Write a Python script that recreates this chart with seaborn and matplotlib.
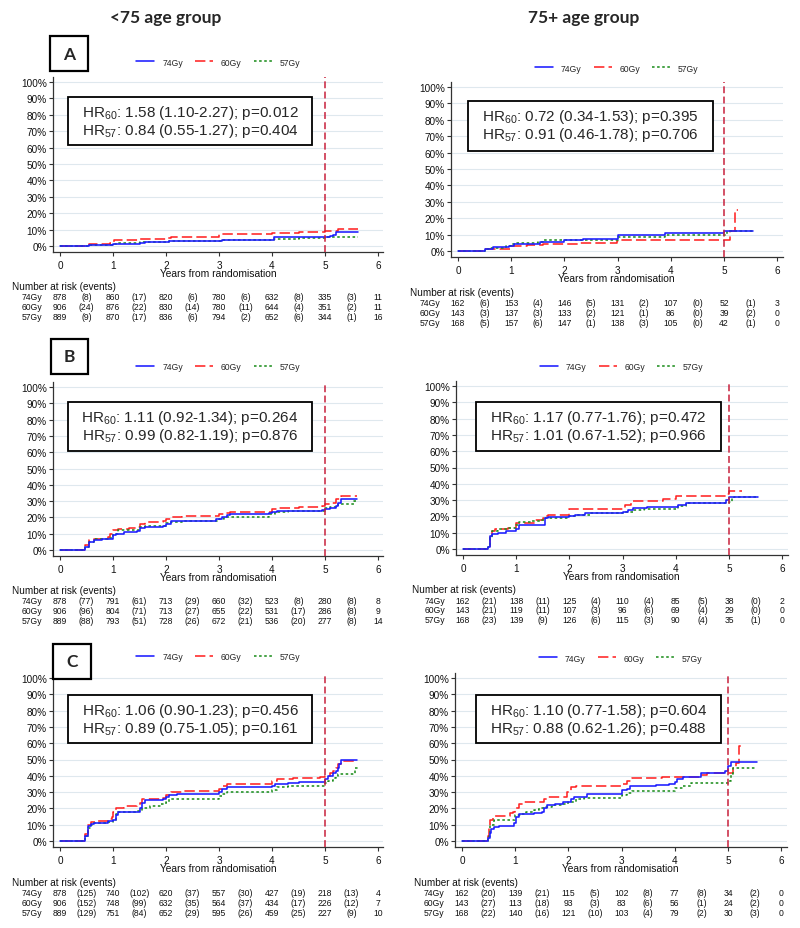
import matplotlib
matplotlib.use("Agg")
import matplotlib.pyplot as plt
import pandas as pd
import seaborn as sns
from matplotlib import transforms
from matplotlib.patches import Rectangle

# Figure size in pixels (dpi 100)
W, H = 800, 929

ARMS = ["74Gy", "60Gy", "57Gy"]
YEAR_TICKS = [0, 1, 2, 3, 4, 5, 6]
PCT_TICKS = [0, 10, 20, 30, 40, 50, 60, 70, 80, 90, 100]
COLUMN_TITLES = ["<75 age group", "75+ age group"]

# Cumulative incidence step curves, (years, %)
lt75_a_74 = [(0, 0), (0.55, 0.5), (1.0, 1.0), (1.05, 1.5), (1.5, 2.0), (1.6, 2.6), (2.05, 3.0), (2.3, 3.3),
             (3.05, 3.8), (4.03, 5.4), (5.1, 6.0), (5.15, 6.5), (5.2, 8.5), (5.63, 8.5)]
lt75_a_60 = [(0, 0), (0.55, 1.0), (0.95, 2.0), (1.02, 3.4), (1.5, 4.2), (2.0, 5.0), (2.1, 5.5), (3.0, 7.3),
             (3.5, 7.6), (4.0, 8.2), (4.5, 8.6), (5.0, 9.2), (5.25, 10.5), (5.63, 10.5)]
lt75_a_57 = [(0, 0), (0.55, 0.5), (1.0, 1.1), (1.1, 1.6), (1.5, 2.2), (1.7, 2.7), (2.05, 3.1), (3.05, 3.6),
             (4.03, 4.5), (4.5, 5.0), (5.0, 5.5), (5.63, 5.5)]

ge75_a_74 = [(0, 0), (0.5, 1.5), (0.65, 2.5), (0.95, 3.0), (1.05, 4.0), (1.15, 4.5), (1.55, 5.5), (2.0, 6.5),
             (2.2, 7.0), (2.35, 7.5), (3.0, 10.0), (3.9, 11.0), (5.0, 12.5), (5.55, 12.5)]
ge75_a_60 = [(0, 0), (0.5, 1.5), (1.0, 3.0), (1.3, 3.5), (1.6, 4.0), (2.0, 4.5), (2.3, 5.0), (2.98, 6.0),
             (3.05, 6.5), (5.12, 12.5), (5.2, 25.0), (5.27, 25.0)]
ge75_a_57 = [(0, 0), (0.5, 1.0), (0.6, 2.0), (0.9, 3.0), (1.0, 4.5), (1.1, 5.0), (1.5, 5.5), (1.6, 6.5),
             (2.0, 7.0), (3.0, 8.5), (3.9, 9.5), (5.0, 10.0), (5.05, 12.0), (5.55, 12.0)]

lt75_b_74 = [(0, 0), (0.48, 2), (0.55, 5), (0.65, 6), (0.8, 6.5), (0.95, 7), (1.0, 9), (1.05, 10), (1.2, 11),
             (1.45, 11.5), (1.5, 13.5), (1.6, 14), (1.95, 15), (2.0, 16), (2.1, 17.5), (2.3, 18), (2.95, 19),
             (3.05, 20.5), (3.15, 21.5), (3.2, 22), (3.95, 23), (4.0, 23.5), (4.1, 24), (4.95, 24.5), (5.0, 25),
             (5.1, 26), (5.2, 27), (5.25, 29), (5.3, 31.5), (5.6, 31.5)]
lt75_b_60 = [(0, 0), (0.48, 3), (0.55, 6), (0.65, 7), (0.9, 8), (0.95, 10), (1.0, 12), (1.1, 13), (1.3, 13.5),
             (1.45, 14), (1.5, 16), (1.6, 17), (1.95, 17.5), (2.0, 19), (2.1, 20.5), (2.3, 21), (3.0, 22),
             (3.1, 23), (3.2, 23.5), (4.0, 25), (4.1, 25.5), (4.5, 26.5), (4.95, 27), (5.0, 28), (5.1, 29),
             (5.2, 31), (5.3, 33), (5.6, 33)]
lt75_b_57 = [(0, 0), (0.48, 2), (0.55, 5), (0.65, 6.5), (0.9, 7.5), (1.0, 10), (1.1, 12), (1.45, 12.5),
             (1.5, 14), (1.6, 14.5), (1.95, 15), (2.0, 16.5), (2.1, 17), (2.3, 17.5), (3.0, 19), (3.1, 20.5),
             (3.95, 22), (4.05, 23.5), (4.3, 24), (5.0, 25.5), (5.1, 26.5), (5.25, 28), (5.55, 30), (5.6, 30)]

ge75_b_74 = [(0, 0), (0.47, 1), (0.5, 8), (0.55, 9.5), (0.65, 10), (0.8, 11), (1.0, 12.5), (1.05, 14.5),
             (1.5, 15), (1.55, 19), (1.6, 19.5), (2.0, 20), (2.1, 21), (2.3, 22), (3.0, 23), (3.1, 24),
             (3.2, 25), (3.45, 25.5), (4.05, 27), (4.2, 28.5), (4.95, 30), (5.0, 32), (5.55, 32)]
ge75_b_60 = [(0, 0), (0.47, 1), (0.5, 9), (0.55, 11), (0.6, 12), (0.85, 13), (1.0, 16), (1.35, 17.5),
             (1.5, 19), (1.55, 20.5), (1.6, 21), (2.0, 24.5), (3.05, 27), (3.15, 29.5), (3.75, 30.5),
             (4.0, 32.5), (4.95, 34), (5.0, 35.5), (5.25, 35.5)]
ge75_b_57 = [(0, 0), (0.47, 1), (0.5, 7), (0.55, 11), (0.65, 12.5), (0.85, 13), (1.0, 15), (1.05, 16.5),
             (1.3, 17), (1.45, 18), (1.55, 19), (2.0, 20), (2.1, 21), (2.4, 22), (3.0, 22.5), (3.2, 24),
             (3.4, 24.5), (4.05, 26.5), (4.2, 28), (4.3, 28.5), (5.0, 29), (5.05, 31), (5.1, 32), (5.55, 32)]

lt75_c_74 = [(0, 0), (0.48, 3), (0.52, 9), (0.58, 10.5), (0.65, 11), (0.9, 12), (1.0, 13), (1.05, 16),
             (1.1, 17.5), (1.2, 18), (1.5, 20), (1.55, 23.5), (1.6, 25), (1.95, 25.5), (2.0, 27), (2.05, 28.5),
             (2.2, 29), (3.0, 30), (3.05, 32), (3.15, 33), (4.0, 34), (4.05, 35), (4.3, 35.5), (4.5, 36.5),
             (5.0, 38), (5.05, 40), (5.15, 41.5), (5.2, 43), (5.25, 45), (5.27, 47), (5.3, 49.5), (5.6, 49.5)]
lt75_c_60 = [(0, 0), (0.48, 4), (0.52, 10), (0.58, 11.5), (0.7, 12.5), (0.9, 13.5), (0.98, 15), (1.0, 18),
             (1.05, 20.5), (1.2, 21.5), (1.45, 22), (1.5, 23.5), (1.55, 25.5), (1.7, 26), (1.95, 26.5),
             (2.0, 28.5), (2.1, 30), (2.3, 30.5), (3.0, 32), (3.05, 34), (3.15, 35), (4.0, 37), (4.1, 38),
             (4.4, 38.5), (4.9, 39), (5.0, 40), (5.1, 41.5), (5.15, 43), (5.2, 45), (5.25, 47), (5.3, 49),
             (5.6, 49)]
lt75_c_57 = [(0, 0), (0.48, 3), (0.52, 8), (0.58, 10), (0.65, 11), (0.9, 11.5), (1.0, 13), (1.05, 16.5),
             (1.1, 17.5), (1.3, 18), (1.45, 18.5), (1.55, 20.5), (1.7, 21.5), (1.9, 22.5), (2.0, 24),
             (2.05, 26), (3.0, 27.5), (3.05, 29), (3.15, 30), (4.0, 31), (4.1, 33), (4.3, 34), (5.0, 35.5),
             (5.05, 37), (5.15, 38.5), (5.2, 40), (5.25, 41), (5.57, 45), (5.65, 45)]

ge75_c_74 = [(0, 0), (0.48, 2), (0.52, 5), (0.55, 7.5), (0.6, 8.5), (0.7, 9.5), (0.98, 11), (1.02, 15),
             (1.07, 16.5), (1.35, 17), (1.5, 18), (1.55, 20), (1.6, 22), (1.75, 23), (1.9, 24), (2.05, 25.5),
             (2.1, 27), (2.35, 29), (3.0, 31), (3.1, 32), (3.15, 33.5), (3.65, 34.5), (3.9, 35), (4.0, 36),
             (4.05, 38), (4.15, 39), (4.5, 41.5), (4.95, 43), (5.0, 46), (5.05, 48.5), (5.55, 48.5)]
ge75_c_60 = [(0, 0), (0.48, 3), (0.5, 9), (0.52, 13), (0.58, 15.5), (0.9, 17), (0.95, 18), (1.0, 20.5),
             (1.07, 22.5), (1.15, 24), (1.55, 25.5), (1.6, 27), (1.98, 30), (2.05, 33), (2.15, 33.5),
             (3.0, 35), (3.1, 37), (3.2, 38.5), (3.75, 39.5), (4.5, 40.5), (4.6, 41.5), (5.1, 45), (5.15, 48),
             (5.2, 58), (5.3, 58)]
ge75_c_57 = [(0, 0), (0.48, 1), (0.5, 3), (0.52, 10), (0.6, 13), (1.0, 16), (1.1, 16.5), (1.2, 18),
             (1.35, 19), (1.45, 20), (1.55, 21), (1.7, 22), (1.9, 23), (2.0, 24), (2.15, 25.5), (2.3, 26.5),
             (3.0, 28), (3.1, 29.5), (3.2, 30.5), (4.0, 32.5), (4.15, 34), (4.3, 35.5), (5.0, 37), (5.05, 41),
             (5.1, 44.5), (5.55, 44.5)]

# Number at risk at years 0..6, events in each yearly interval (rows: 74Gy, 60Gy, 57Gy)
lt75_a_at_risk = [[878, 860, 820, 780, 632, 335, 11], [906, 876, 830, 780, 644, 351, 11], [889, 870, 836, 794, 652, 344, 16]]
lt75_a_events = [[8, 17, 6, 6, 8, 3], [24, 22, 14, 11, 4, 2], [9, 17, 6, 2, 6, 1]]
ge75_a_at_risk = [[162, 153, 146, 131, 107, 52, 3], [143, 137, 133, 121, 86, 39, 0], [168, 157, 147, 138, 105, 42, 0]]
ge75_a_events = [[6, 4, 5, 2, 0, 1], [3, 3, 2, 1, 0, 2], [5, 6, 1, 3, 0, 1]]
lt75_b_at_risk = [[878, 791, 713, 660, 523, 280, 8], [906, 804, 713, 655, 531, 286, 9], [889, 793, 728, 672, 536, 277, 14]]
lt75_b_events = [[77, 61, 29, 32, 8, 8], [96, 71, 27, 22, 17, 8], [88, 51, 26, 21, 20, 8]]
ge75_b_at_risk = [[162, 138, 125, 110, 85, 38, 2], [143, 119, 107, 96, 69, 29, 0], [168, 139, 126, 115, 90, 35, 0]]
ge75_b_events = [[21, 11, 4, 4, 5, 0], [21, 11, 3, 6, 4, 0], [23, 9, 6, 3, 4, 1]]
lt75_c_at_risk = [[878, 740, 620, 557, 427, 218, 4], [906, 748, 632, 564, 434, 226, 7], [889, 751, 652, 595, 459, 227, 10]]
lt75_c_events = [[125, 102, 37, 30, 19, 13], [152, 99, 35, 37, 17, 12], [129, 84, 29, 26, 25, 9]]
ge75_c_at_risk = [[162, 139, 115, 102, 77, 34, 0], [143, 113, 93, 83, 56, 24, 0], [168, 140, 121, 103, 79, 30, 0]]
ge75_c_events = [[20, 21, 5, 8, 8, 2], [27, 18, 3, 6, 1, 2], [22, 16, 10, 4, 2, 3]]

# Hazard ratios (vs 74Gy)
lt75_a_hr = ["1.58 (1.10-2.27); p=0.012", "0.84 (0.55-1.27); p=0.404"]
ge75_a_hr = ["0.72 (0.34-1.53); p=0.395", "0.91 (0.46-1.78); p=0.706"]
lt75_b_hr = ["1.11 (0.92-1.34); p=0.264", "0.99 (0.82-1.19); p=0.876"]
ge75_b_hr = ["1.17 (0.77-1.76); p=0.472", "1.01 (0.67-1.52); p=0.966"]
lt75_c_hr = ["1.06 (0.90-1.23); p=0.456", "0.89 (0.75-1.05); p=0.161"]
ge75_c_hr = ["1.10 (0.77-1.58); p=0.604", "0.88 (0.62-1.26); p=0.488"]

ARM_COLORS = {"74Gy": "#1c1cff", "60Gy": "#ff2424", "57Gy": "#1f8f1f"}
ARM_DASHES = {"74Gy": "", "60Gy": (6.5, 2.6), "57Gy": (1.6, 1.6)}
XLIM = (-0.13, 6.1)
YLIM = (-3.7, 103)

# Pixel layout of each panel: origin (x of year 0, y of 0%), scale, legend, HR box, risk table
PANELS = [
    dict(curves=(lt75_a_74, lt75_a_60, lt75_a_57), risk=lt75_a_at_risk, events=lt75_a_events, hr=lt75_a_hr,
         x0=60, pxy=53.0, y0=247, pxp=1.64, leg_y=63, box=(68, 98, 312, 146), risk_y=287, lab_x=12,
         letter=("A", 50, 37, 88, 72)),
    dict(curves=(ge75_a_74, ge75_a_60, ge75_a_57), risk=ge75_a_at_risk, events=ge75_a_events, hr=ge75_a_hr,
         x0=458, pxy=53.2, y0=252, pxp=1.64, leg_y=69, box=(468, 102, 713, 152), risk_y=293, lab_x=410,
         letter=None),
    dict(curves=(lt75_b_74, lt75_b_60, lt75_b_57), risk=lt75_b_at_risk, events=lt75_b_events, hr=lt75_b_hr,
         x0=60, pxy=53.0, y0=551, pxp=1.63, leg_y=368, box=(68, 403, 312, 452), risk_y=591, lab_x=12,
         letter=("B", 51, 340, 88, 375)),
    dict(curves=(ge75_b_74, ge75_b_60, ge75_b_57), risk=ge75_b_at_risk, events=ge75_b_events, hr=ge75_b_hr,
         x0=463, pxy=53.2, y0=550, pxp=1.63, leg_y=368, box=(476, 403, 721, 452), risk_y=590, lab_x=412,
         letter=None),
    dict(curves=(lt75_c_74, lt75_c_60, lt75_c_57), risk=lt75_c_at_risk, events=lt75_c_events, hr=lt75_c_hr,
         x0=60, pxy=53.0, y0=842, pxp=1.63, leg_y=658, box=(68, 696, 312, 744), risk_y=883, lab_x=12,
         letter=("C", 53, 645, 91, 680)),
    dict(curves=(ge75_c_74, ge75_c_60, ge75_c_57), risk=ge75_c_at_risk, events=ge75_c_events, hr=ge75_c_hr,
         x0=462, pxy=53.2, y0=842, pxp=1.63, leg_y=659, box=(476, 696, 721, 744), risk_y=883, lab_x=414,
         letter=None),
]


def fig_xy(x, y):
    """Pixel position (from top-left) to figure fraction."""
    return x / W, 1 - y / H


def add_box(fig, x1, y1, x2, y2, lw):
    fig.patches.append(Rectangle(fig_xy(x1, y2), (x2 - x1) / W, (y2 - y1) / H,
                                 transform=fig.transFigure, facecolor="white",
                                 edgecolor="black", linewidth=lw, zorder=2))


def draw_panel(fig, p):
    left = p["x0"] + XLIM[0] * p["pxy"]
    right = p["x0"] + XLIM[1] * p["pxy"]
    bottom = p["y0"] - YLIM[0] * p["pxp"]
    top = p["y0"] - YLIM[1] * p["pxp"]
    ax = fig.add_axes([left / W, 1 - bottom / H, (right - left) / W, (bottom - top) / H])

    frames = []
    for arm, pts in zip(ARMS, p["curves"]):
        t, v = zip(*pts)
        frames.append(pd.DataFrame({"years": t, "pct": v, "arm": arm}))
    df = pd.concat(frames, ignore_index=True)

    sns.lineplot(data=df, x="years", y="pct", hue="arm", style="arm", hue_order=ARMS, style_order=ARMS,
                 palette=ARM_COLORS, dashes=ARM_DASHES, estimator=None, sort=False,
                 drawstyle="steps-post", linewidth=1.15, ax=ax)
    ax.lines[0].set_zorder(2.6)  # 74Gy drawn on top
    ax.axvline(5, color="#c8203c", linewidth=1.1, dashes=(4.5, 2.2), zorder=3)

    ax.set_xlim(*XLIM)
    ax.set_ylim(*YLIM)
    ax.set_xticks(YEAR_TICKS)
    ax.set_yticks(PCT_TICKS)
    ax.set_yticklabels([f"{v}%" for v in PCT_TICKS])
    ax.yaxis.grid(True, color="#dfe8ee", linewidth=0.8)
    ax.xaxis.grid(False)
    sns.despine(ax=ax)
    for side in ("left", "bottom"):
        ax.spines[side].set_color("#333333")
        ax.spines[side].set_linewidth(0.9)
    ax.tick_params(axis="both", length=3, width=0.8, color="#333333", labelsize=7.2, labelcolor="#111111")
    ax.tick_params(axis="y", pad=1.5)
    ax.tick_params(axis="x", pad=2.5)
    ax.set_ylabel("")
    ax.set_xlabel("Years from randomisation", fontsize=7.4, labelpad=-1, color="#111111")
    ax.set_facecolor("white")

    sns.move_legend(ax, "center", bbox_to_anchor=fig_xy((left + right) / 2, p["leg_y"]),
                    bbox_transform=fig.transFigure, ncol=3, frameon=False, title="",
                    fontsize=6.2, handlelength=2.1, columnspacing=1.4, handletextpad=0.9)

    # Hazard ratio box
    x1, y1, x2, y2 = p["box"]
    add_box(fig, x1, y1, x2, y2, 1.3)
    for i, (sub, txt) in enumerate(zip(["60", "57"], p["hr"])):
        fig.text(*fig_xy((x1 + x2) / 2, y1 + 15 + 18 * i), rf"HR$_\mathregular{{{sub}}}$: {txt}",
                 ha="center", va="center", fontsize=11, zorder=4)

    # Panel letter
    if p["letter"]:
        lbl, lx1, ly1, lx2, ly2 = p["letter"]
        add_box(fig, lx1, ly1, lx2, ly2, 1.6)
        fig.text(*fig_xy((lx1 + lx2) / 2, (ly1 + ly2) / 2), lbl, ha="center", va="center",
                 fontsize=12.5, fontweight="bold", family="Lato", zorder=4)

    # Number at risk table
    fig.text(*fig_xy(p["lab_x"], p["risk_y"]), "Number at risk (events)", ha="left", va="center",
             fontsize=7.2, color="#111111")
    trans = transforms.blended_transform_factory(ax.transData, fig.transFigure)
    for r, arm in enumerate(ARMS):
        ypx = p["risk_y"] + 11 + 9.8 * r
        yf = 1 - ypx / H
        fig.text(*fig_xy(p["x0"] - 18, ypx), arm, ha="right", va="center", fontsize=6.2, color="#111111")
        for yr, n in zip(YEAR_TICKS, p["risk"][r]):
            ax.text(yr, yf, str(n), transform=trans, ha="center", va="center", fontsize=6.2,
                    color="#111111", clip_on=False)
        for yr, e in zip(YEAR_TICKS[:-1], p["events"][r]):
            ax.text(yr + 0.5, yf, f"({e})", transform=trans, ha="center", va="center", fontsize=6.2,
                    color="#111111", clip_on=False)
    return ax


if __name__ == "__main__":
    sns.set_theme(style="ticks")
    plt.rcParams["font.family"] = ["Liberation Sans", "DejaVu Sans"]
    plt.rcParams["mathtext.fontset"] = "custom"
    plt.rcParams["mathtext.rm"] = "Liberation Sans"

    fig = plt.figure(figsize=(W / 100, H / 100), dpi=100)
    fig.patch.set_facecolor("white")

    for p in PANELS:
        draw_panel(fig, p)

    for title, cx in zip(COLUMN_TITLES, [166, 584]):
        fig.text(*fig_xy(cx, 18), title, ha="center", va="center", fontsize=12.5,
                 fontweight="bold", family="Lato")

    fig.savefig("out.png", dpi=100)
